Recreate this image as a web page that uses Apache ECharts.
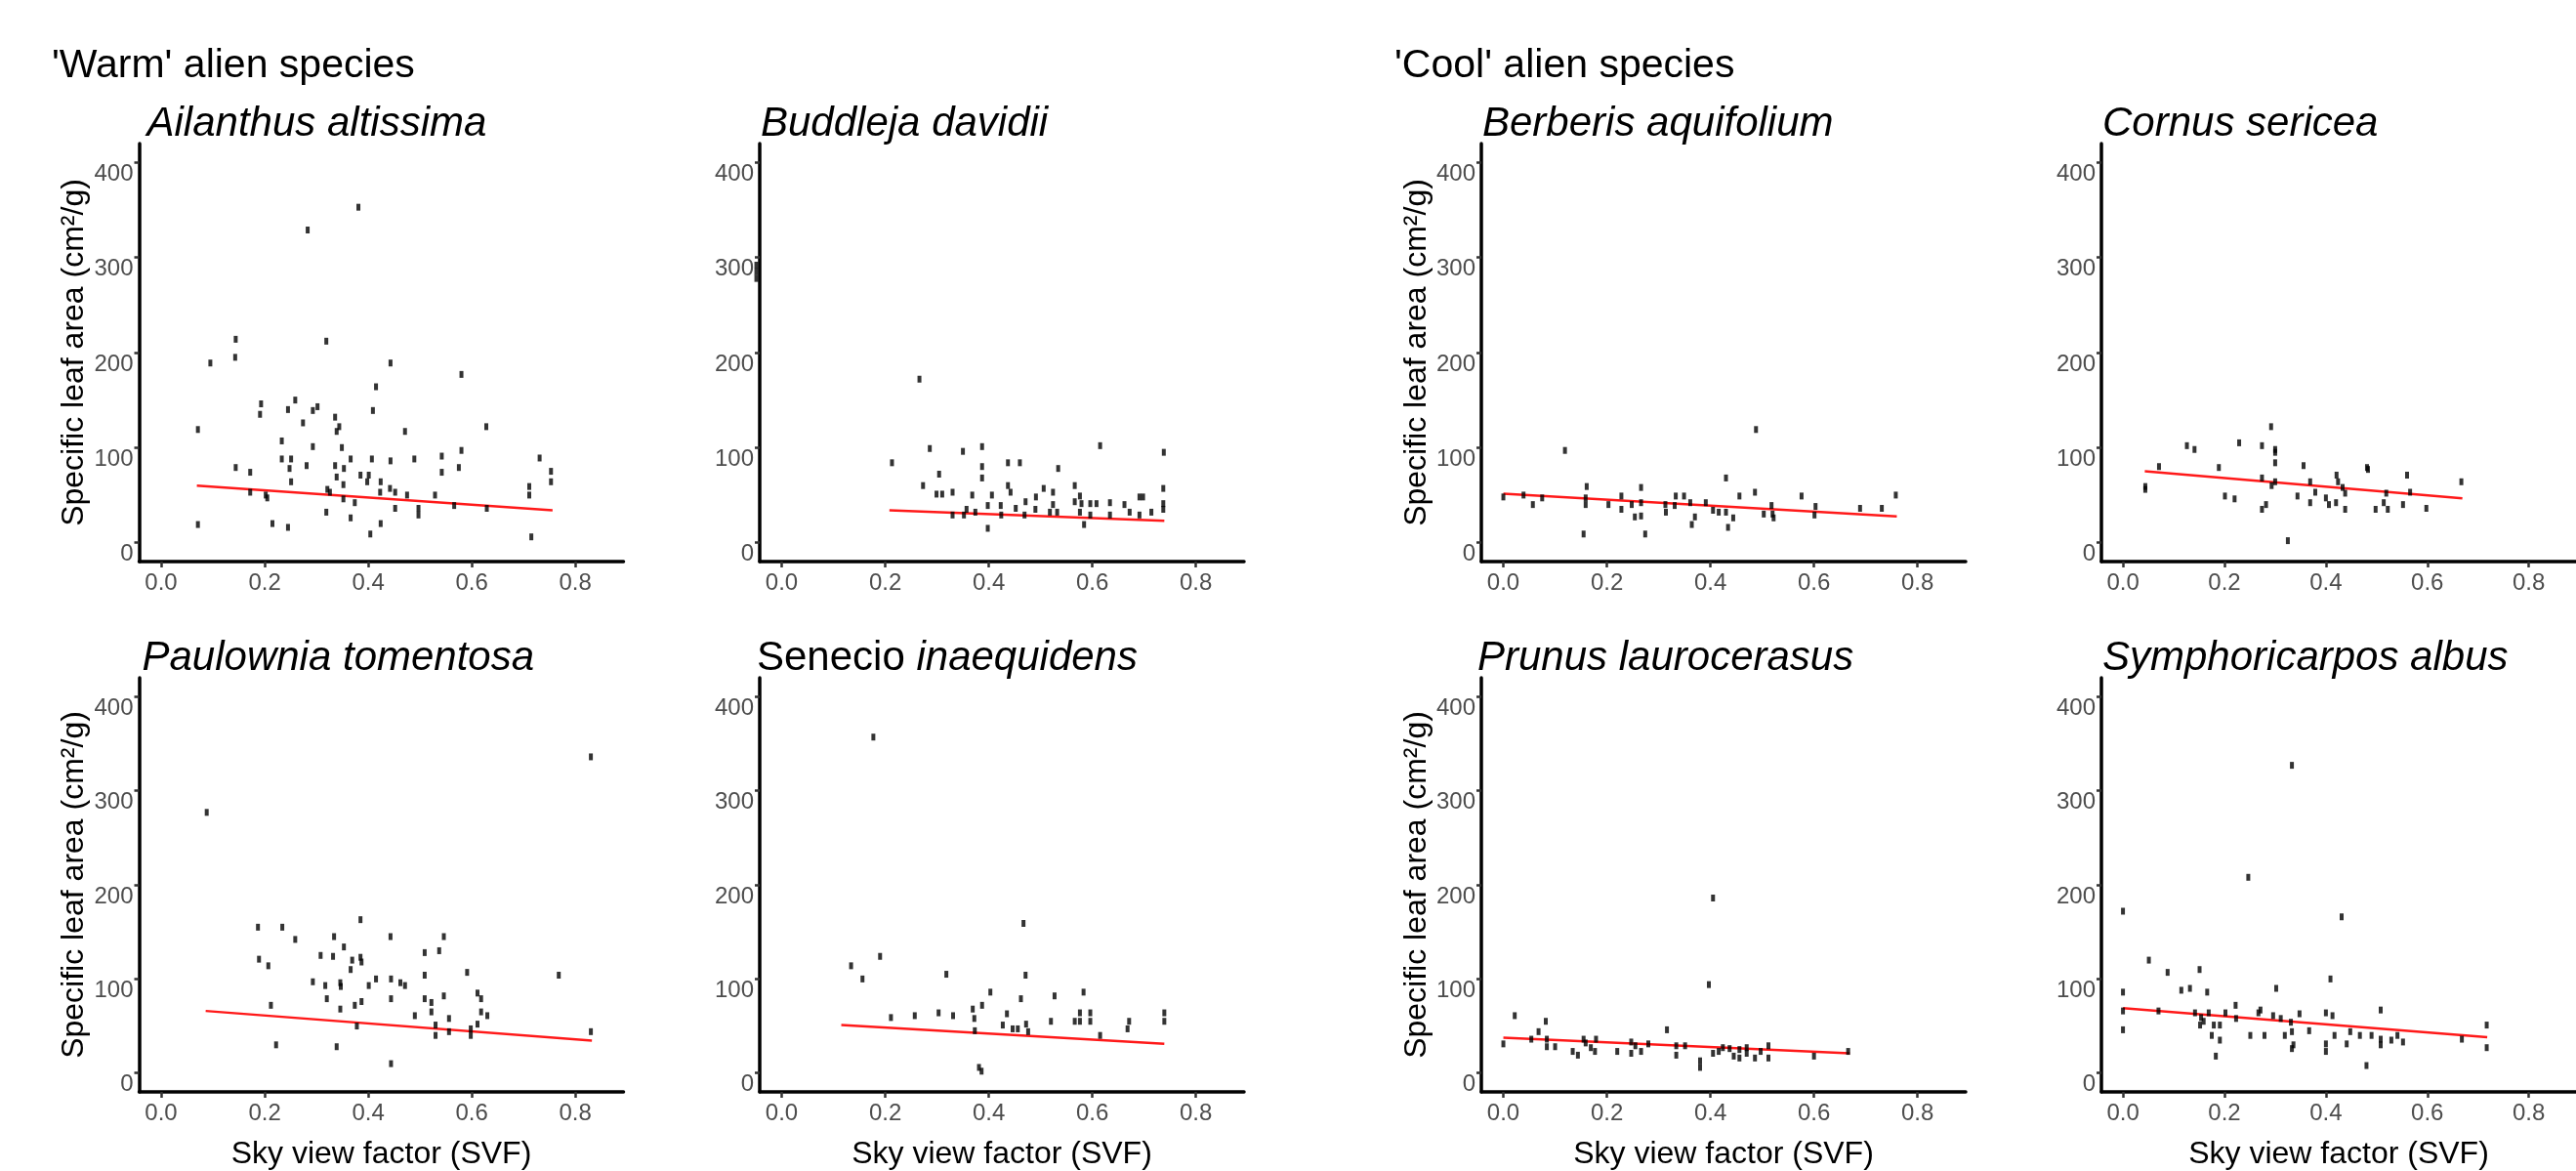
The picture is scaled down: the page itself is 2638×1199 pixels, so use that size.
<!DOCTYPE html>
<html>
<head>
<meta charset="utf-8">
<title>SLA vs SVF</title>
<script src="https://cdn.jsdelivr.net/npm/echarts@6/dist/echarts.min.js"></script>
<style>
    html, body { margin: 0; padding: 0; background: #fff; }
    #main { width: 2638px; height: 1199px; }
</style>
</head>
<body>
<div id="main"></div>
<script>
// 刻度
var xTicks = [0, 0.2, 0.4, 0.6, 0.8];
var yTicks = [0, 100, 200, 300, 400];

// 各物种的点 [SVF, SLA]
var ailanthus = [[0.381,353],[0.283,329],[0.144,214],[0.143,195],[0.319,212],[0.095,189],[0.443,189],[0.580,177],[0.415,164],[0.259,150],[0.193,146],[0.191,135],[0.245,140],[0.293,139],[0.302,143],[0.409,139],[0.336,132],[0.274,126],[0.344,122],[0.339,117],[0.471,117],[0.628,122],[0.071,119],[0.233,107],[0.293,101],[0.349,100],[0.580,97],[0.233,88],[0.251,88],[0.366,88],[0.407,88],[0.489,88],[0.542,91],[0.731,89],[0.443,86],[0.144,79],[0.172,74],[0.248,78],[0.281,81],[0.336,81],[0.353,78],[0.575,79],[0.542,74],[0.753,75],[0.339,69],[0.385,71],[0.401,71],[0.398,64],[0.251,64],[0.352,61],[0.424,64],[0.753,64],[0.442,57],[0.452,53],[0.423,53],[0.321,56],[0.326,53],[0.711,59],[0.711,50],[0.172,53],[0.202,50],[0.205,47],[0.475,50],[0.529,50],[0.352,46],[0.374,42],[0.566,39],[0.629,36],[0.452,36],[0.497,36],[0.497,29],[0.319,32],[0.366,26],[0.071,19],[0.215,20],[0.245,16],[0.424,20],[0.404,9],[0.715,6]];
var buddleja = [[-0.049,292],[-0.049,285],[-0.049,278],[0.266,172],[0.213,84],[0.286,99],[0.350,96],[0.387,101],[0.615,102],[0.738,95],[0.387,80],[0.437,84],[0.460,84],[0.534,78],[0.304,72],[0.387,68],[0.273,60],[0.437,60],[0.566,60],[0.506,57],[0.737,57],[0.299,51],[0.310,51],[0.330,53],[0.368,50],[0.406,50],[0.442,53],[0.524,53],[0.491,48],[0.576,49],[0.691,48],[0.698,48],[0.471,43],[0.566,43],[0.579,41],[0.596,41],[0.608,41],[0.634,42],[0.662,40],[0.737,41],[0.398,39],[0.423,39],[0.452,36],[0.524,40],[0.357,35],[0.490,35],[0.737,35],[0.518,32],[0.532,32],[0.576,32],[0.714,32],[0.374,32],[0.330,29],[0.352,29],[0.424,29],[0.469,29],[0.596,29],[0.634,29],[0.672,32],[0.691,29],[0.584,19],[0.398,15]];
var berberis = [[0.488,119],[0.119,97],[0.430,68],[0.161,59],[0.266,58],[0.486,53],[0.576,49],[0.758,50],[0.0,48],[0.039,50],[0.075,47],[0.159,47],[0.228,49],[0.333,49],[0.349,49],[0.456,49],[0.057,40],[0.159,40],[0.203,40],[0.248,40],[0.266,42],[0.313,40],[0.331,39],[0.361,42],[0.391,42],[0.518,39],[0.603,38],[0.689,36],[0.731,36],[0.228,35],[0.405,34],[0.416,32],[0.430,32],[0.520,30],[0.503,30],[0.601,29],[0.314,32],[0.254,27],[0.266,28],[0.370,27],[0.444,26],[0.522,26],[0.364,19],[0.434,16],[0.155,9],[0.274,9]];
var cornus = [[0.292,122],[0.126,102],[0.141,98],[0.229,105],[0.274,102],[0.300,98],[0.300,95],[0.300,84],[0.071,80],[0.189,79],[0.356,81],[0.481,79],[0.483,77],[0.560,71],[0.421,71],[0.274,68],[0.369,64],[0.300,64],[0.667,64],[0.424,64],[0.044,59],[0.044,56],[0.293,60],[0.433,58],[0.379,53],[0.438,52],[0.566,53],[0.519,52],[0.201,49],[0.220,46],[0.344,49],[0.400,47],[0.369,42],[0.420,42],[0.406,40],[0.514,42],[0.552,40],[0.282,40],[0.274,35],[0.438,35],[0.498,35],[0.522,35],[0.598,36],[0.325,2]];
var paulownia = [[0.830,336],[0.088,277],[0.385,163],[0.187,155],[0.234,155],[0.443,145],[0.546,145],[0.259,142],[0.334,145],[0.353,134],[0.537,130],[0.509,128],[0.308,125],[0.332,124],[0.385,123],[0.189,121],[0.369,120],[0.387,118],[0.207,114],[0.366,110],[0.591,107],[0.509,104],[0.768,104],[0.415,100],[0.444,100],[0.293,97],[0.346,96],[0.462,96],[0.471,93],[0.317,93],[0.401,93],[0.347,92],[0.611,85],[0.546,82],[0.618,79],[0.509,79],[0.320,79],[0.444,79],[0.387,76],[0.522,75],[0.374,72],[0.212,72],[0.346,68],[0.522,65],[0.618,65],[0.490,61],[0.630,61],[0.556,58],[0.611,52],[0.530,51],[0.378,50],[0.598,47],[0.556,44],[0.830,44],[0.530,40],[0.598,40],[0.222,30],[0.339,28],[0.444,10]];
var senecio = [[0.177,357],[0.467,159],[0.190,124],[0.134,114],[0.156,100],[0.318,105],[0.471,104],[0.403,86],[0.583,86],[0.527,82],[0.462,79],[0.387,72],[0.369,68],[0.303,64],[0.576,64],[0.596,64],[0.739,64],[0.257,61],[0.331,61],[0.435,63],[0.211,59],[0.372,58],[0.520,55],[0.566,55],[0.576,55],[0.596,55],[0.671,55],[0.739,55],[0.427,51],[0.472,52],[0.446,47],[0.456,47],[0.668,47],[0.476,44],[0.373,45],[0.615,40],[0.381,6],[0.386,2]];
var prunus = [[0.405,186],[0.397,94],[0.022,61],[0.082,55],[0.316,46],[0.068,44],[0.0,31],[0.054,36],[0.084,36],[0.155,36],[0.179,36],[0.084,28],[0.100,28],[0.159,32],[0.169,27],[0.177,23],[0.134,23],[0.144,19],[0.220,23],[0.247,33],[0.247,21],[0.255,29],[0.266,23],[0.280,31],[0.334,29],[0.351,29],[0.334,19],[0.405,21],[0.416,23],[0.424,27],[0.437,26],[0.445,18],[0.456,25],[0.456,16],[0.470,27],[0.470,21],[0.486,16],[0.497,23],[0.512,29],[0.512,16],[0.380,6],[0.380,13],[0.600,18],[0.666,23]];
var symphoricarpos = [[0.333,327],[0.247,208],[0.431,166],[0.0,172],[0.051,120],[0.088,107],[0.151,110],[0.409,100],[0.0,86],[0.115,88],[0.132,90],[0.166,86],[0.302,90],[0.222,72],[0.0,66],[0.070,66],[0.142,64],[0.169,64],[0.202,64],[0.271,67],[0.267,64],[0.348,63],[0.400,64],[0.508,67],[0.413,61],[0.296,61],[0.154,59],[0.311,58],[0.223,58],[0.159,55],[0.331,54],[0.152,51],[0.179,51],[0.191,51],[0.717,51],[0.0,46],[0.367,45],[0.448,44],[0.175,40],[0.251,40],[0.279,40],[0.319,40],[0.333,44],[0.417,40],[0.467,40],[0.490,40],[0.541,40],[0.668,36],[0.191,35],[0.508,36],[0.529,35],[0.552,33],[0.441,31],[0.400,31],[0.508,30],[0.336,30],[0.333,26],[0.400,23],[0.717,27],[0.183,18],[0.480,8]];

// 回归线两端
var ailanthusFit = [[0.069, 60], [0.756, 34]];
var buddlejaFit = [[0.208, 34], [0.739, 23]];
var berberisFit = [[0.0, 51.5], [0.76, 27.6]];
var cornusFit = [[0.043, 75], [0.669, 46.5]];
var paulowniaFit = [[0.086, 66], [0.832, 34.5]];
var senecioFit = [[0.115, 51], [0.739, 31]];
var prunusFit = [[0.0, 37.6], [0.669, 21]];
var symphoricarposFit = [[0.0, 69], [0.718, 38]];

var FONT = '"Liberation Sans", Arial, sans-serif';
var colLeft = [142.5, 778, 1517, 2152];
var rowTop = [147, 694];
var plotW = 496, plotH = 428;

var panels = [
    {name: 'Ailanthus altissima', pts: ailanthus, fit: ailanthusFit, row: 0, col: 0, dx: 8},
    {name: 'Buddleja davidii', pts: buddleja, fit: buddlejaFit, row: 0, col: 1, dx: 1},
    {name: 'Berberis aquifolium', pts: berberis, fit: berberisFit, row: 0, col: 2, dx: 1},
    {name: 'Cornus sericea', pts: cornus, fit: cornusFit, row: 0, col: 3, dx: 1},
    {name: 'Paulownia tomentosa', pts: paulownia, fit: paulowniaFit, row: 1, col: 0, dx: 3},
    {name: '{n|Senecio} {i|inaequidens}', pts: senecio, fit: senecioFit, row: 1, col: 1, dx: -3},
    {name: 'Prunus laurocerasus', pts: prunus, fit: prunusFit, row: 1, col: 2, dx: -4},
    {name: 'Symphoricarpos albus', pts: symphoricarpos, fit: symphoricarposFit, row: 1, col: 3, dx: 1}
];

var grid = [], xAxis = [], yAxis = [], series = [];
var title = [
    {text: "'Warm' alien species", left: 53, top: 47, padding: 0,
        textStyle: {fontFamily: FONT, fontSize: 41, lineHeight: 41, fontWeight: 'normal', color: '#000'}},
    {text: "'Cool' alien species", left: 1428, top: 47, padding: 0,
        textStyle: {fontFamily: FONT, fontSize: 41, lineHeight: 41, fontWeight: 'normal', color: '#000'}}
];

panels.forEach(function (p, i) {
    var left = colLeft[p.col];
    var top = rowTop[p.row];
    grid.push({left: left, top: top, width: plotW, height: plotH});

    title.push({
        text: p.name, left: left + p.dx, top: top - 40.5, padding: 0,
        textStyle: {
            fontFamily: FONT, fontSize: 42, lineHeight: 42, fontStyle: 'italic', fontWeight: 'normal', color: '#000',
            rich: {
                n: {fontFamily: FONT, fontSize: 42, lineHeight: 42, fontStyle: 'normal', color: '#000'},
                i: {fontFamily: FONT, fontSize: 42, lineHeight: 42, fontStyle: 'italic', color: '#000'}
            }
        }
    });

    xAxis.push({
        type: 'value', gridIndex: i, min: -0.0425, max: 0.893,
        name: p.row === 1 ? 'Sky view factor (SVF)' : '',
        nameLocation: 'middle', nameGap: 48,
        nameTextStyle: {fontFamily: FONT, fontSize: 32, lineHeight: 32, color: '#000'},
        axisLine: {show: true, onZero: false, lineStyle: {color: '#000', width: 3.5}},
        axisTick: {show: true, customValues: xTicks, length: 6, lineStyle: {color: '#333', width: 2.5}},
        axisLabel: {
            show: true, customValues: xTicks, margin: 10, fontFamily: FONT, fontSize: 24, color: '#4d4d4d',
            formatter: function (v) { return v.toFixed(1); }
        },
        splitLine: {show: false}
    });

    yAxis.push({
        type: 'value', gridIndex: i, min: -20, max: 420,
        name: (p.col === 0 || p.col === 2) ? 'Specific leaf area (cm²/g)' : '',
        nameLocation: 'middle', nameRotate: 90, nameGap: 50,
        nameTextStyle: {fontFamily: FONT, fontSize: 32, lineHeight: 32, color: '#000'},
        axisLine: {show: true, onZero: false, lineStyle: {color: '#000', width: 3.5}},
        axisTick: {show: true, customValues: yTicks, length: 5, lineStyle: {color: '#333', width: 2.5}},
        axisLabel: {
            show: true, customValues: yTicks, margin: 6, fontFamily: FONT, fontSize: 24, color: '#4d4d4d',
            verticalAlign: 'top'
        },
        splitLine: {show: false}
    });

    series.push({
        type: 'scatter', xAxisIndex: i, yAxisIndex: i, data: p.pts,
        symbol: 'rect', symbolSize: [4, 7], clip: false,
        itemStyle: {color: '#000'}, silent: true, z: 4
    });
    series.push({
        type: 'line', xAxisIndex: i, yAxisIndex: i, data: p.fit,
        symbol: 'none', lineStyle: {color: 'rgba(255,0,0,0.9)', width: 2.5},
        silent: true, z: 3
    });
});

var chart = echarts.init(document.getElementById('main'));
chart.setOption({
    animation: false,
    backgroundColor: '#fff',
    title: title,
    grid: grid,
    xAxis: xAxis,
    yAxis: yAxis,
    series: series
});
window.onresize = chart.resize;
</script>
</body>
</html>
